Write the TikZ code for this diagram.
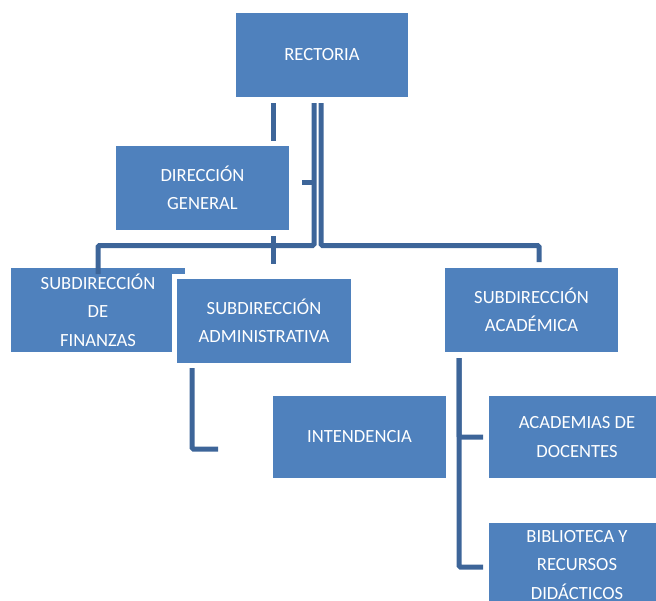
\documentclass[tikz,border=0pt]{standalone}
\usepackage{fontspec}
\setmainfont{Carlito}
\definecolor{boxblue}{HTML}{4F81BD}
\definecolor{lineblue}{HTML}{3D6599}
\begin{document}
\begin{tikzpicture}[x = 1pt, y = -1pt,
  box/.style = {rectangle, fill = boxblue, draw = none, text = white, inner sep = 0pt, outer sep = 0pt,
    anchor = north west, align = center, font = \fontsize{18.6}{28.5}\selectfont},
  conn/.style = {draw = lineblue, line width = 5pt, rounded corners = 1.5pt}]
\useasboundingbox (0,0) rectangle (656,600);
\clip (0,0) rectangle (656,600);
% boxes
\node[box, minimum width = 172pt, minimum height = 84pt] (rect) at (236,13) {RECTORIA};
\node[box, minimum width = 173pt, minimum height = 84pt] (dirgen) at (116,146) {DIRECCIÓN\\GENERAL};
\node[box, minimum width = 174pt, minimum height = 84pt] (fin) at (11,268) {SUBDIRECCIÓN\\DE\\FINANZAS};
\node[box, draw = white, line width = 5pt, minimum width = 179pt, minimum height = 89pt] (adm) at (174.5,276.5) {SUBDIRECCIÓN\\ADMINISTRATIVA};
\node[box, minimum width = 173pt, minimum height = 84pt] (acad) at (445,268) {SUBDIRECCIÓN\\ACADÉMICA};
\node[box, minimum width = 173pt, minimum height = 82pt] (intend) at (273,396) {INTENDENCIA};
\node[box, minimum width = 176pt, minimum height = 82pt] (acadoc) at (489,396) {ACADEMIAS DE\\DOCENTES};
\node[box, minimum width = 176pt, minimum height = 84pt] (biblio) at (489,523) {BIBLIOTECA Y\\RECURSOS\\DIDÁCTICOS};
% connectors
\draw[conn] ([shift={(-49,6)}]rect.south) -- ([shift={(70.5,-5)}]dirgen.north);
\draw[conn] ([shift={(-8,6)}]rect.south) -- ++(0,142.5) -| ([yshift=-6]fin.north);
\draw[conn] ([shift={(-1,6)}]rect.south) -- ++(0,142.5) -| ([shift={(7.5,-6)}]acad.north);
\draw[conn] ([shift={(13,-5.5)}]dirgen.east) -- ++(12,0);
\draw[conn] ([shift={(70.5,6)}]dirgen.south) -- ([shift={(9,-12.5)}]adm.north);
\draw[conn] ([shift={(17.5,2.5)}]adm.south west) |- ([shift={(-55,12)}]intend.west);
\draw[conn] ([shift={(14,6)}]acad.south west) |- ([xshift=-6]acadoc.west);
\draw[conn] ([shift={(14,6)}]acad.south west) |- ([shift={(-6,2)}]biblio.west);
\end{tikzpicture}
\end{document}
